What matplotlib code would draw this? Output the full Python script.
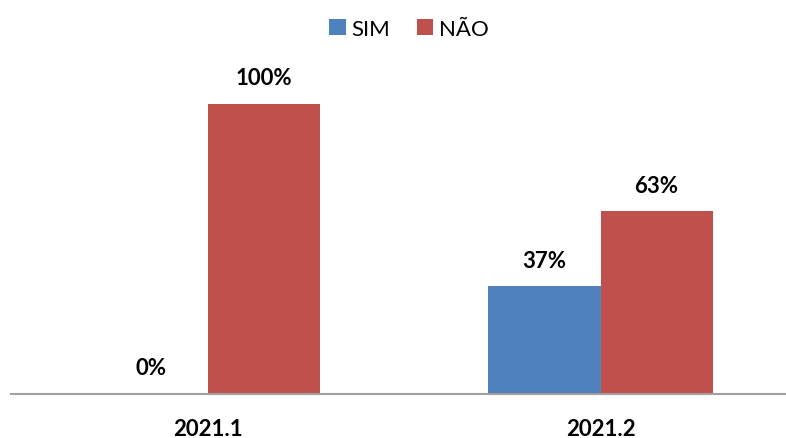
import matplotlib.pyplot as plt
import numpy as np

plt.rcParams['font.family'] = ['Lato', 'DejaVu Sans']

periodos = ["2021.1", "2021.2"]
sim = [0, 37]
nao = [100, 63]

x = np.arange(len(periodos))
w = 0.285

fig = plt.figure(figsize=(7.86, 4.39), dpi=100)
ax = fig.add_axes([11 / 786, 44.5 / 439, 775 / 786, 348 / 439])

b1 = ax.bar(x - w / 2, sim, w, color="#4F81BD", label="SIM")
b2 = ax.bar(x + w / 2, nao, w, color="#C0504D", label="NÃO")

for bars, vals in ((b1, sim), (b2, nao)):
    for b, v in zip(bars, vals):
        ax.annotate(f"{v}%", (b.get_x() + b.get_width() / 2, v),
                    xytext=(0, 11), textcoords="offset points",
                    ha="center", va="bottom", fontsize=16, fontweight="bold")

ax.set_xlim(-0.5, -0.5 + 775 / 393)
ax.set_ylim(0, 120)
ax.set_xticks(x)
ax.set_xticklabels(periodos, fontsize=16, fontweight="bold")
ax.tick_params(axis="x", length=0, pad=18)
ax.set_yticks([])
for s in ["top", "right", "left"]:
    ax.spines[s].set_visible(False)
ax.spines["bottom"].set_color("#A0A0A0")
ax.spines["bottom"].set_linewidth(1.5)

fig.legend(loc="upper center", bbox_to_anchor=(0.52, 1.0), ncol=2, frameon=False,
           fontsize=16, handlelength=0.75, handleheight=0.75, handletextpad=0.25,
           columnspacing=1.2)

plt.savefig("out.png", dpi=100)
